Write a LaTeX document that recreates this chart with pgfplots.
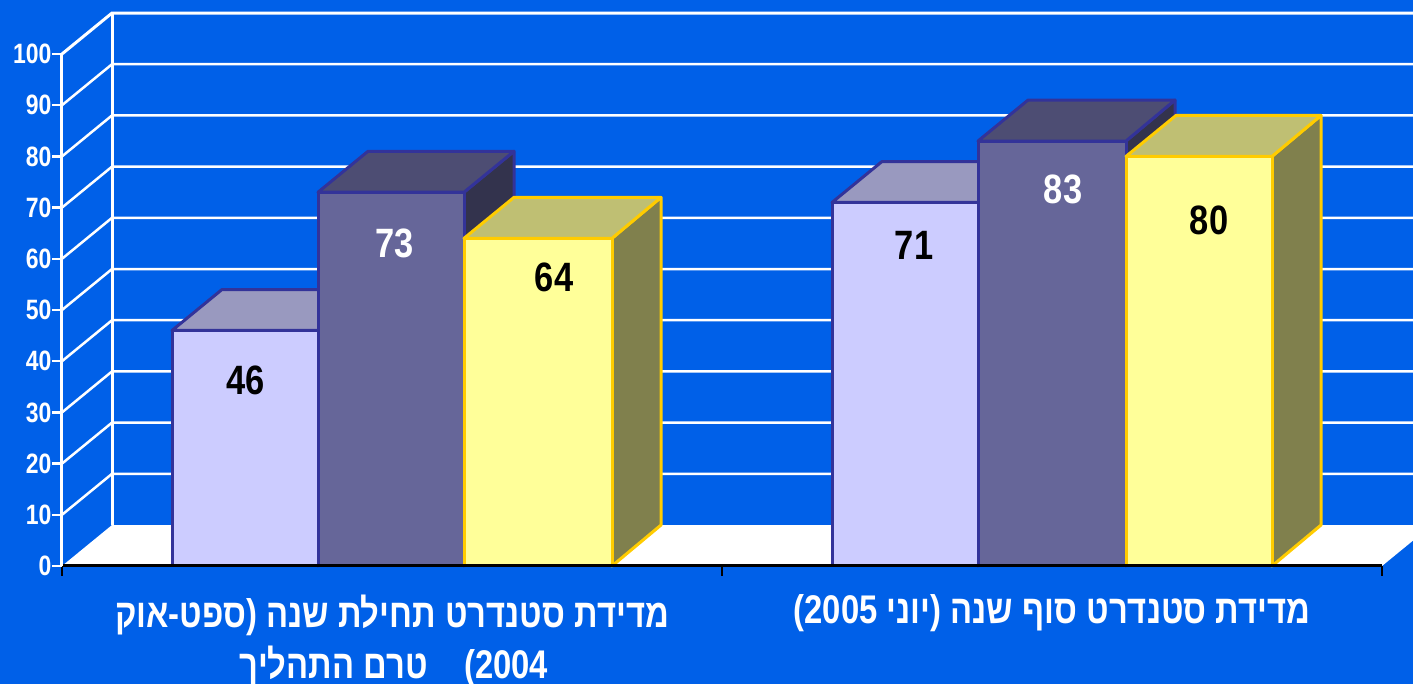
\documentclass[border=0pt]{standalone}
\usepackage{pgfplots}
\pgfplotsset{compat=1.18}
\usepackage{fontspec}
\setmainfont{Liberation Sans}
\newfontfamily\hebfont[Script=Hebrew,BoldFont={Liberation Sans Bold}]{Liberation Sans}
\TeXXeTstate=1
\definecolor{bgblue}{RGB}{0,96,232}
\definecolor{edgeA}{RGB}{51,51,153}
\definecolor{edgeB}{RGB}{255,204,0}
\definecolor{aF}{RGB}{204,204,255}
\definecolor{aT}{RGB}{153,153,191}
\definecolor{aS}{RGB}{102,102,128}
\definecolor{bF}{RGB}{102,102,153}
\definecolor{bT}{RGB}{77,77,115}
\definecolor{bS}{RGB}{51,51,77}
\definecolor{cF}{RGB}{255,255,153}
\definecolor{cT}{RGB}{191,191,115}
\definecolor{cS}{RGB}{128,128,77}
\newcommand{\hl}[1]{\scalebox{0.82}[1]{\fontsize{40}{44}\bfseries\hebfont #1}}
\newcommand{\dl}[1]{\scalebox{0.84}[1]{\fontsize{41}{44}\bfseries #1}}
\begin{document}
\begin{tikzpicture}[x=1pt,y=1pt]
\useasboundingbox (0,0) rectangle (1413,684);
\fill[bgblue] (0,0) rectangle (1413,684);
\begin{axis}[
  at={(62pt,118pt)},anchor=south west,
  scale only axis,width=1320pt,height=512pt,
  xmin=62,xmax=1382,ymin=0,ymax=100,clip=false,
  axis on top,
  axis x line*=bottom,axis y line*=left,
  x axis line style={black,line width=3pt,-},
  y axis line style={white,line width=3pt,-},
  xtick={392,1052},
  xticklabels={{\hl{\beginR מדידת סטנדרט תחילת שנה (ספט-אוק\endR}},{\hl{\beginR מדידת סטנדרט סוף שנה (יוני 2005)\endR}}},
  minor xtick={62,722,1382},
  major x tick style={draw=none},
  minor x tick style={black,line width=2pt},
  minor tick length=10pt,
  ytick={0,10,...,100},
  y tick style={white,line width=2.5pt},
  major tick length=10pt,
  tick align=outside,
  yticklabel style={white,xshift=3pt,font=\fontsize{28}{30}\bfseries},
  yticklabel={\scalebox{0.82}[1]{\pgfmathprintnumber{\tick}}},
  /pgf/number format/assume math mode=true,
  xticklabel style={white,yshift=-15pt,anchor=north},
]
% floor
\addplot[fill=white,draw=none] coordinates {(62,0)(112,8)(1413,8)(1413,4.96)(1382,0)} --cycle;
% wall
\addplot[white,line width=3pt] coordinates {(112,8)(112,108)};
\addplot[white,line width=2.5pt] coordinates {(62,10)(112,18)(1413,18)};
\addplot[white,line width=2.5pt] coordinates {(62,20)(112,28)(1413,28)};
\addplot[white,line width=2.5pt] coordinates {(62,30)(112,38)(1413,38)};
\addplot[white,line width=2.5pt] coordinates {(62,40)(112,48)(1413,48)};
\addplot[white,line width=2.5pt] coordinates {(62,50)(112,58)(1413,58)};
\addplot[white,line width=2.5pt] coordinates {(62,60)(112,68)(1413,68)};
\addplot[white,line width=2.5pt] coordinates {(62,70)(112,78)(1413,78)};
\addplot[white,line width=2.5pt] coordinates {(62,80)(112,88)(1413,88)};
\addplot[white,line width=2.5pt] coordinates {(62,90)(112,98)(1413,98)};
\addplot[white,line width=3pt] coordinates {(62,100)(112,108)(1413,108)};
% group 1, bar 1: 46
\addplot[fill=aS,draw=edgeA,line width=3pt,line join=round] coordinates {(318,0)(368,8)(368,54)(318,46)} --cycle;
\addplot[fill=aT,draw=edgeA,line width=3pt,line join=round] coordinates {(172,46)(222,54)(368,54)(318,46)} --cycle;
\addplot[fill=aF,draw=edgeA,line width=3pt,line join=round] coordinates {(172,0)(172,46)(318,46)(318,0)} --cycle;
% group 1, bar 2: 73
\addplot[fill=bS,draw=edgeA,line width=3pt,line join=round] coordinates {(464,0)(514,8)(514,81)(464,73)} --cycle;
\addplot[fill=bT,draw=edgeA,line width=3pt,line join=round] coordinates {(318,73)(368,81)(514,81)(464,73)} --cycle;
\addplot[fill=bF,draw=edgeA,line width=3pt,line join=round] coordinates {(318,0)(318,73)(464,73)(464,0)} --cycle;
% group 1, bar 3: 64
\addplot[fill=cS,draw=edgeB,line width=3pt,line join=round] coordinates {(612,0)(661,8)(661,72)(612,64)} --cycle;
\addplot[fill=cT,draw=edgeB,line width=3pt,line join=round] coordinates {(464,64)(514,72)(661,72)(612,64)} --cycle;
\addplot[fill=cF,draw=edgeB,line width=3pt,line join=round] coordinates {(464,0)(464,64)(612,64)(612,0)} --cycle;
% group 2, bar 1: 71
\addplot[fill=aS,draw=edgeA,line width=3pt,line join=round] coordinates {(978,0)(1028,8)(1028,79)(978,71)} --cycle;
\addplot[fill=aT,draw=edgeA,line width=3pt,line join=round] coordinates {(832,71)(882,79)(1028,79)(978,71)} --cycle;
\addplot[fill=aF,draw=edgeA,line width=3pt,line join=round] coordinates {(832,0)(832,71)(978,71)(978,0)} --cycle;
% group 2, bar 2: 83
\addplot[fill=bS,draw=edgeA,line width=3pt,line join=round] coordinates {(1126,0)(1175,8)(1175,91)(1126,83)} --cycle;
\addplot[fill=bT,draw=edgeA,line width=3pt,line join=round] coordinates {(978,83)(1028,91)(1175,91)(1126,83)} --cycle;
\addplot[fill=bF,draw=edgeA,line width=3pt,line join=round] coordinates {(978,0)(978,83)(1126,83)(1126,0)} --cycle;
% group 2, bar 3: 80
\addplot[fill=cS,draw=edgeB,line width=3pt,line join=round] coordinates {(1272,0)(1321,8)(1321,88)(1272,80)} --cycle;
\addplot[fill=cT,draw=edgeB,line width=3pt,line join=round] coordinates {(1126,80)(1176,88)(1321,88)(1272,80)} --cycle;
\addplot[fill=cF,draw=edgeB,line width=3pt,line join=round] coordinates {(1126,0)(1126,80)(1272,80)(1272,0)} --cycle;
% value labels
\node[black] at (axis cs:246,36.2) {\dl{46}};
\node[white] at (axis cs:395,63) {\dl{73}};
\node[black] at (axis cs:554,56.4) {\dl{64}};
\node[black] at (axis cs:914,62.6) {\dl{71}};
\node[white] at (axis cs:1063,73.6) {\dl{83}};
\node[black] at (axis cs:1209,67.5) {\dl{80}};
% second line of the first category
\node[white] at (axis cs:394,-19.7) {\hl{\beginR 2004)\ \ \ \ טרם התהליך\endR}};
\end{axis}
\end{tikzpicture}
\end{document}
